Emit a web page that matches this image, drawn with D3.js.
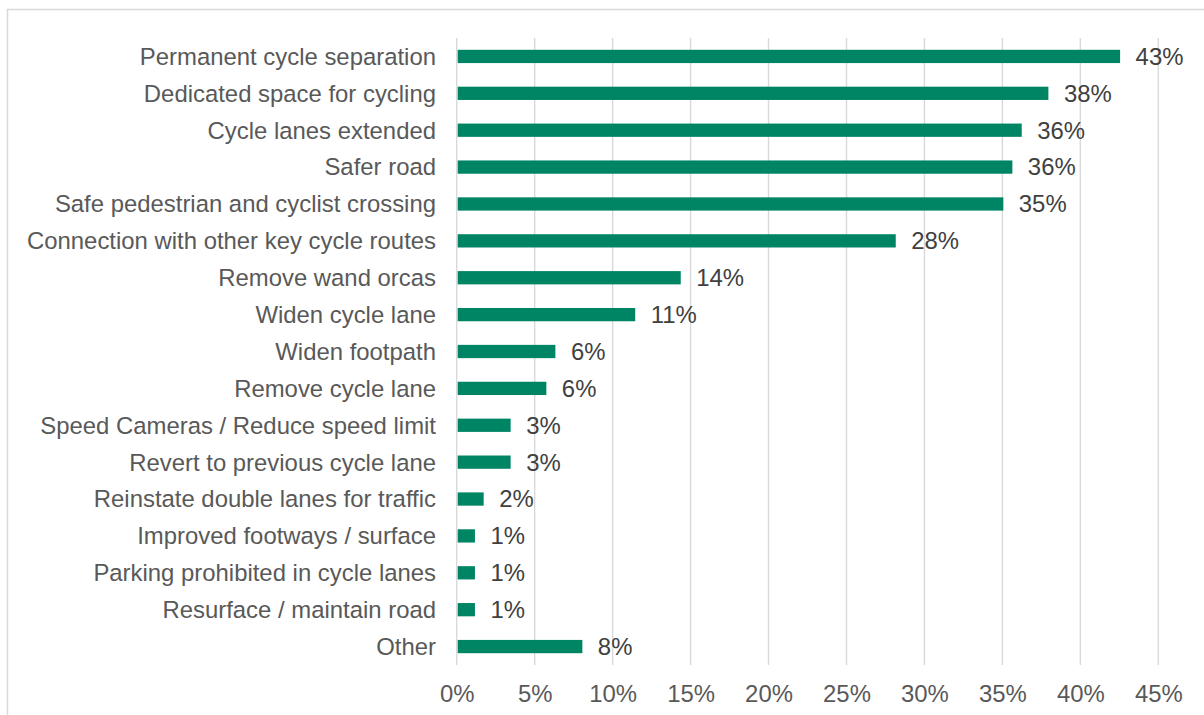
<!DOCTYPE html>
<html>
<head>
<meta charset="utf-8">
<script src="https://cdn.jsdelivr.net/npm/d3@7"></script>
<style>
  html, body { margin: 0; padding: 0; background: #fff; }
  svg { display: block; font-family: "Liberation Sans", Arial, sans-serif; }
</style>
</head>
<body>
<svg id="chart" width="1204" height="715"></svg>
<script>
const categories = [
  "Permanent cycle separation",
  "Dedicated space for cycling",
  "Cycle lanes extended",
  "Safer road",
  "Safe pedestrian and cyclist crossing",
  "Connection with other key cycle routes",
  "Remove wand orcas",
  "Widen cycle lane",
  "Widen footpath",
  "Remove cycle lane",
  "Speed Cameras / Reduce speed limit",
  "Revert to previous cycle lane",
  "Reinstate double lanes for traffic",
  "Improved footways / surface",
  "Parking prohibited in cycle lanes",
  "Resurface / maintain road",
  "Other"
];
const values = [42.55, 37.95, 36.24, 35.64, 35.06, 28.16, 14.37, 11.45, 6.33, 5.75, 3.46, 3.46, 1.73, 1.17, 1.17, 1.17, 8.06];
const tickValues = [0, 5, 10, 15, 20, 25, 30, 35, 40, 45];

const svg = d3.select("#chart");
const fs = 23.9;

// outer border
svg.append("rect")
  .attr("x", 7.5).attr("y", 9.5)
  .attr("width", 1300).attr("height", 800)
  .attr("fill", "none").attr("stroke", "#d9d9d9").attr("stroke-width", 1.5);

const x = d3.scaleLinear().domain([0, 45]).range([456.7, 1158.3]);
const y = d3.scaleBand().domain(categories).range([38, 665])
  .paddingInner(0.64).paddingOuter(0.32);

// gridlines
svg.append("g").selectAll("line").data(tickValues).join("line")
  .attr("x1", d => x(d)).attr("x2", d => x(d))
  .attr("y1", 38).attr("y2", 665)
  .attr("stroke", "#d9d9d9").attr("stroke-width", 1.4);

// bars
svg.append("g").selectAll("rect").data(values).join("rect")
  .attr("x", x(0) + 1)
  .attr("y", (d, i) => y(categories[i]))
  .attr("width", d => x(d) - x(0) - 1)
  .attr("height", y.bandwidth())
  .attr("fill", "#008564");

// data labels
svg.append("g").selectAll("text").data(values).join("text")
  .attr("x", d => x(d) + 15.5)
  .attr("y", (d, i) => y(categories[i]) + y.bandwidth() / 2)
  .attr("dy", "0.35em")
  .attr("font-size", fs)
  .attr("fill", "#404040")
  .text(d => Math.round(d) + "%");

// category labels
svg.append("g").selectAll("text").data(categories).join("text")
  .attr("x", 436)
  .attr("y", d => y(d) + y.bandwidth() / 2)
  .attr("dy", "0.35em")
  .attr("text-anchor", "end")
  .attr("font-size", fs)
  .attr("fill", "#595959")
  .text(d => d);

// x axis tick labels
const xAxis = d3.axisBottom(x).tickValues(tickValues).tickFormat(d => d + "%").tickSize(0).tickPadding(0);
const gx = svg.append("g").call(xAxis);
gx.select(".domain").remove();
gx.selectAll("text")
  .attr("y", 702).attr("dy", null)
  .attr("font-size", fs)
  .attr("font-family", "\"Liberation Sans\", Arial, sans-serif")
  .attr("fill", "#595959");
</script>
</body>
</html>
